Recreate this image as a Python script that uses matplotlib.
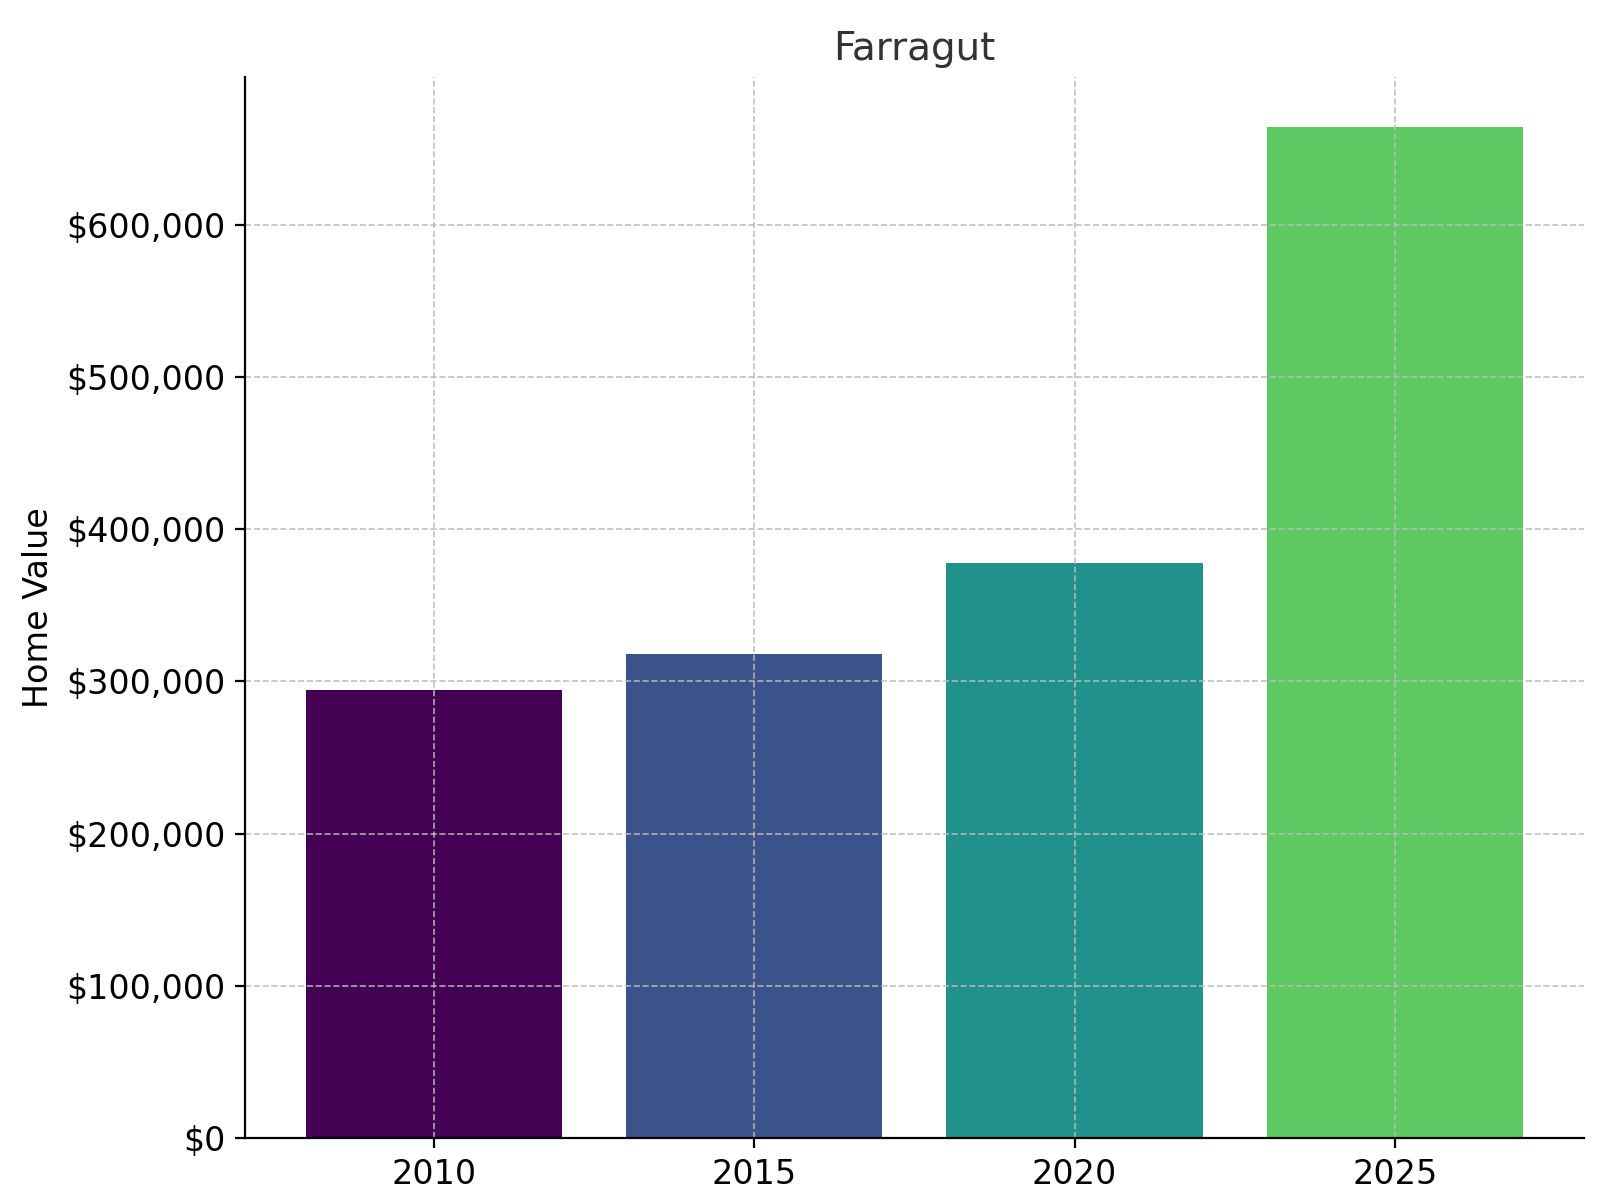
import matplotlib
matplotlib.use("Agg")
import matplotlib.pyplot as plt
from matplotlib.ticker import FuncFormatter

years = ["2010", "2015", "2020", "2025"]
values = [294000, 318000, 378000, 664000]
colors = ["#440154", "#3b528b", "#21918c", "#5ec962"]

fig = plt.figure(figsize=(8, 6), dpi=200)
ax = fig.add_axes([0.153, 1-0.9485, 0.990-0.153, 0.9485-0.064])
ax.bar(years, values, color=colors, width=0.8, zorder=2)
ax.grid(True, linestyle="--", color="#bbbbbb", linewidth=0.6, alpha=0.9, zorder=3)
ax.set_axisbelow(False)
ax.yaxis.set_major_formatter(FuncFormatter(lambda v, p: f"${v:,.0f}"))
ax.set_ylim(0, 697000)
ax.set_ylabel("Home Value", fontsize=12)
ax.set_title("Farragut", fontsize=14, color="#333333")
ax.tick_params(labelsize=12)
for s in ["top", "right"]:
    ax.spines[s].set_visible(False)
for s in ["left", "bottom"]:
    ax.spines[s].set_zorder(5)
fig.savefig("out.png", dpi=200)
